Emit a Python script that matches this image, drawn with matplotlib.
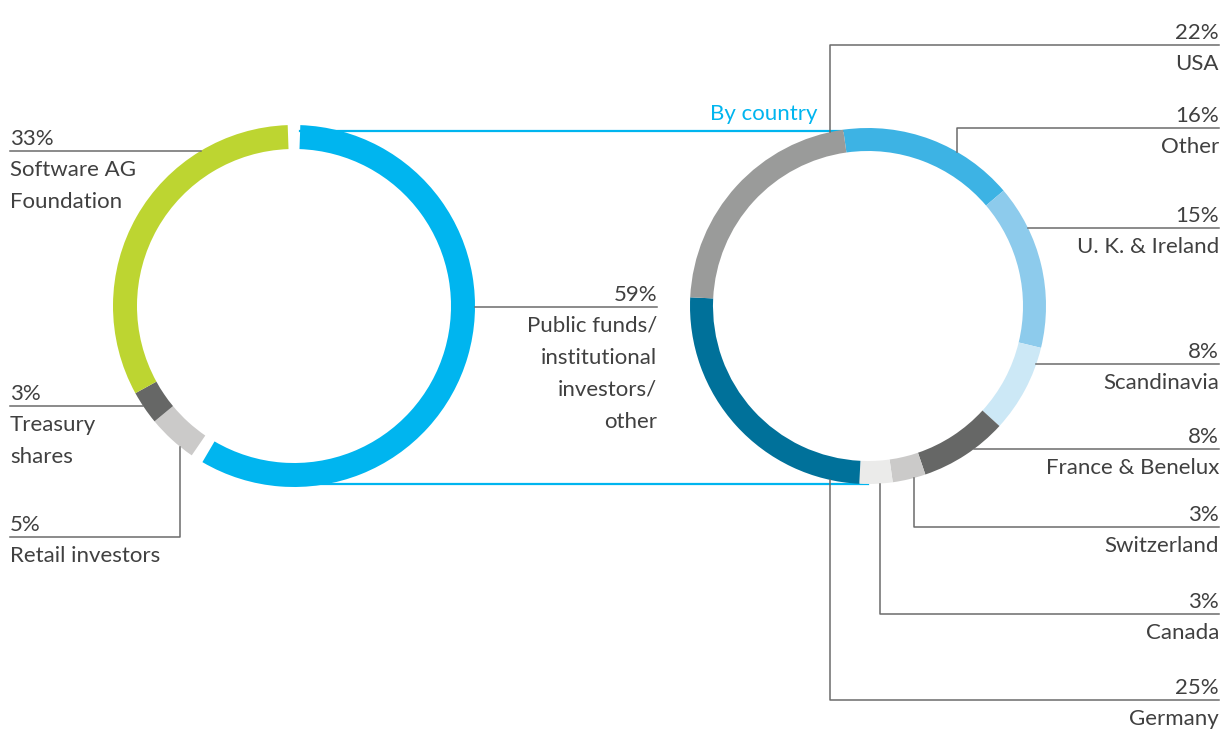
import numpy as np
import matplotlib.pyplot as plt

# shareholder structure (left ring), clockwise from top
owner_labels = ["Public funds/\ninstitutional\ninvestors/\nother", "Retail investors",
                "Treasury\nshares", "Software AG\nFoundation"]
owner_values = [59, 5, 3, 33]
owner_colors = ["#00b5ef", "#cbcac9", "#666766", "#bdd531"]

# public funds by country (right ring), clockwise from top
country_labels = ["Other", "U. K. & Ireland", "Scandinavia", "France & Benelux",
                  "Switzerland", "Canada", "Germany", "USA"]
country_values = [16, 15, 8, 8, 3, 3, 25, 22]
country_colors = ["#3db3e4", "#8dcbec", "#cce8f6", "#666766",
                  "#cbcac9", "#ebebea", "#00719a", "#9a9b9a"]

W, H = 1224, 729
TXT = "#404040"
LEAD = "#6b6b6b"
BLUE = "#00b5ef"
FS = 16
FW = 'normal'

plt.rcParams['font.family'] = ['Lato', 'DejaVu Sans']

fig = plt.figure(figsize=(W / 100, H / 100), dpi=100)
ax = fig.add_axes([0, 0, 1, 1])


def py(y):
    # pixel row -> data y
    return H - y


# ring geometry (pixels)
L_cx, L_cy, L_r = 294, 306, 181
R_cx, R_cy, R_r = 868, 306, 178
ring_w = 23
gap = 2.0

wl, _ = ax.pie(owner_values, colors=owner_colors, radius=L_r, center=(L_cx, py(L_cy)),
               startangle=90, counterclock=False, wedgeprops=dict(width=ring_w + 1, linewidth=0))
# white gaps around the public funds segment
wl[0].set_theta1(wl[0].theta1 + gap)
wl[0].set_theta2(wl[0].theta2 - gap)
wl[1].set_theta2(wl[1].theta2 - gap)
wl[3].set_theta1(wl[3].theta1 + gap)

ax.pie(country_values, colors=country_colors, radius=R_r, center=(R_cx, py(R_cy)),
       startangle=98, counterclock=False, wedgeprops=dict(width=ring_w, linewidth=0))

# connector lines between the rings
top_y = L_cy - L_r + 6
x0 = L_cx + L_r * np.cos(np.radians(90 - gap))
ax.plot([x0, R_cx], [py(top_y), py(top_y)], color=BLUE, lw=1.6, zorder=0.5)
bot_y = L_cy + L_r - 3
ax.plot([L_cx, R_cx], [py(bot_y), py(bot_y)], color=BLUE, lw=1.6, zorder=0.5)
ax.text(817, py(120), "By country", color=BLUE, fontsize=FS, fontweight=FW,
        ha='right', va='baseline')


def label(cx, cy, r, text, pct, tx, ly, ha, elbow=None):
    # leader line from label rule to the outer edge of the ring
    if elbow is None:
        dx = np.sqrt(r ** 2 - (ly - cy) ** 2)
        xr = cx - dx if ha == 'left' else cx + dx
        ax.plot([tx, xr], [py(ly), py(ly)], color=LEAD, lw=1.1, zorder=1)
    else:
        dy = np.sqrt(r ** 2 - (elbow - cx) ** 2)
        yr = cy - dy if ly < cy else cy + dy
        ax.plot([tx, elbow, elbow], [py(ly), py(ly), py(yr)], color=LEAD, lw=1.1, zorder=1)
    ax.text(tx, py(ly - 6), f"{pct}%", color=TXT, fontsize=FS, fontweight=FW,
            ha=ha, va='baseline')
    for i, line in enumerate(text.split("\n")):
        ax.text(tx, py(ly + 25 + 32 * i), line, color=TXT, fontsize=FS, fontweight=FW,
                ha=ha, va='baseline')


# left ring labels: (text x, rule y, alignment, elbow x)
owner_pos = [(657, 306.5, 'right', None), (10, 537, 'left', 180),
             (10, 406, 'left', None), (10, 151, 'left', None)]
for lab, val, (tx, ly, ha, el) in zip(owner_labels, owner_values, owner_pos):
    label(L_cx, L_cy, L_r, lab, val, tx, ly, ha, el)

# right ring labels
country_pos = [(128, 957), (228, None), (364, None), (449, None),
               (527, 914), (614, 880), (700, 830), (45, 830)]
for lab, val, (ly, el) in zip(country_labels, country_values, country_pos):
    label(R_cx, R_cy, R_r, lab, val, 1219, ly, 'right', el)

ax.set_xlim(0, W)
ax.set_ylim(0, H)
ax.set_aspect('equal')
ax.axis('off')

fig.savefig("out.png", dpi=100, facecolor='white')
